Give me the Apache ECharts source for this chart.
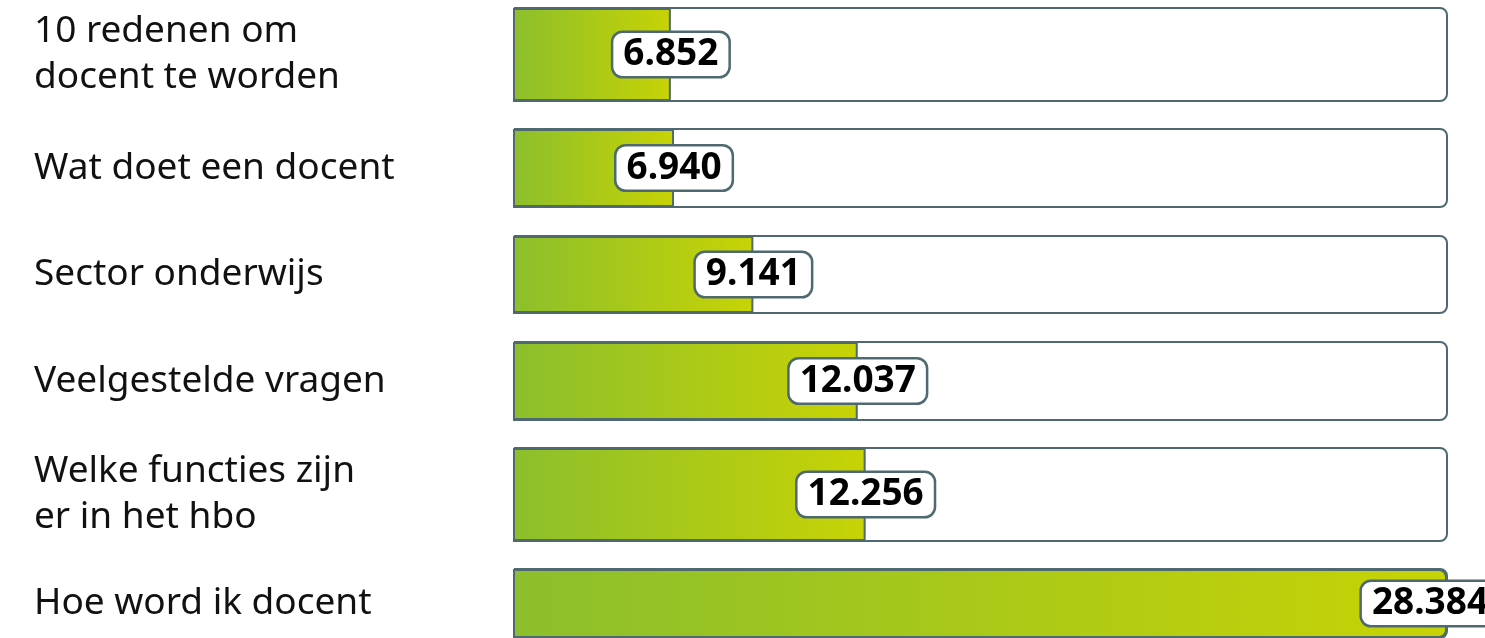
<!DOCTYPE html>
<html>
<head>
<meta charset="utf-8">
<script src="https://cdn.jsdelivr.net/npm/echarts@6/dist/echarts.min.js"></script>
<style>
  html, body { margin: 0; padding: 0; background: #fff; }
  #chart { width: 1485px; height: 638px; }
</style>
</head>
<body>
<div id="chart"></div>
<script>
const categories = [
  '10 redenen om\ndocent te worden',
  'Wat doet een docent',
  'Sector onderwijs',
  'Veelgestelde vragen',
  'Welke functies zijn\ner in het hbo',
  'Hoe word ik docent'
]
const values = [6852, 6940, 9141, 12037, 12256, 28384]

// layout of each row (top / height in px)
const rowTop = [8, 129, 236, 342, 448, 569]
const rowHeight = [93, 78, 77, 78, 93, 78]

const edge = '#4e6a70'
const font = '"Noto Sans", sans-serif'

const chart = echarts.init(document.getElementById('chart'))

const grid = []
const xAxis = []
const yAxis = []
const series = []

categories.forEach((cat, i) => {
  grid.push({ left: 514, right: 38, top: rowTop[i], height: rowHeight[i] })
  xAxis.push({
    type: 'value',
    gridIndex: i,
    min: 2500,
    max: 28384,
    show: false
  })
  yAxis.push({
    type: 'category',
    gridIndex: i,
    data: [cat],
    axisLine: { show: false },
    axisTick: { show: false },
    axisLabel: {
      align: 'left',
      margin: 480,
      fontSize: 37,
      lineHeight: 46,
      color: '#111',
      fontFamily: font,
      padding: [9, 0, 0, 0]
    }
  })
  const isFull = values[i] === Math.max(...values)
  series.push({
    type: 'bar',
    xAxisIndex: i,
    yAxisIndex: i,
    barWidth: '100%',
    showBackground: true,
    backgroundStyle: {
      color: '#fff',
      borderColor: edge,
      borderWidth: 2,
      borderRadius: [0, 7, 7, 0]
    },
    itemStyle: {
      color: new echarts.graphic.LinearGradient(0, 0, 1, 0, [
        { offset: 0, color: '#8cbf2c' },
        { offset: 1, color: '#c7d305' }
      ]),
      borderColor: edge,
      borderWidth: 2,
      borderRadius: isFull ? [0, 7, 7, 0] : 0
    },
    label: {
      show: true,
      position: ['100%', '50%'],
      align: 'center',
      verticalAlign: 'middle',
      offset: isFull ? [-17, 0] : [0, 0],
      formatter: p => p.value.toLocaleString('nl-NL'),
      fontSize: 37,
      fontWeight: 'bold',
      fontFamily: font,
      color: '#000',
      lineHeight: 41,
      backgroundColor: '#fff',
      borderColor: edge,
      borderWidth: 2.5,
      borderRadius: 9,
      padding: [1, 10]
    },
    data: [values[i]]
  })
})

chart.setOption({
  backgroundColor: '#fff',
  animation: false,
  grid: grid,
  xAxis: xAxis,
  yAxis: yAxis,
  series: series
})
</script>
</body>
</html>
